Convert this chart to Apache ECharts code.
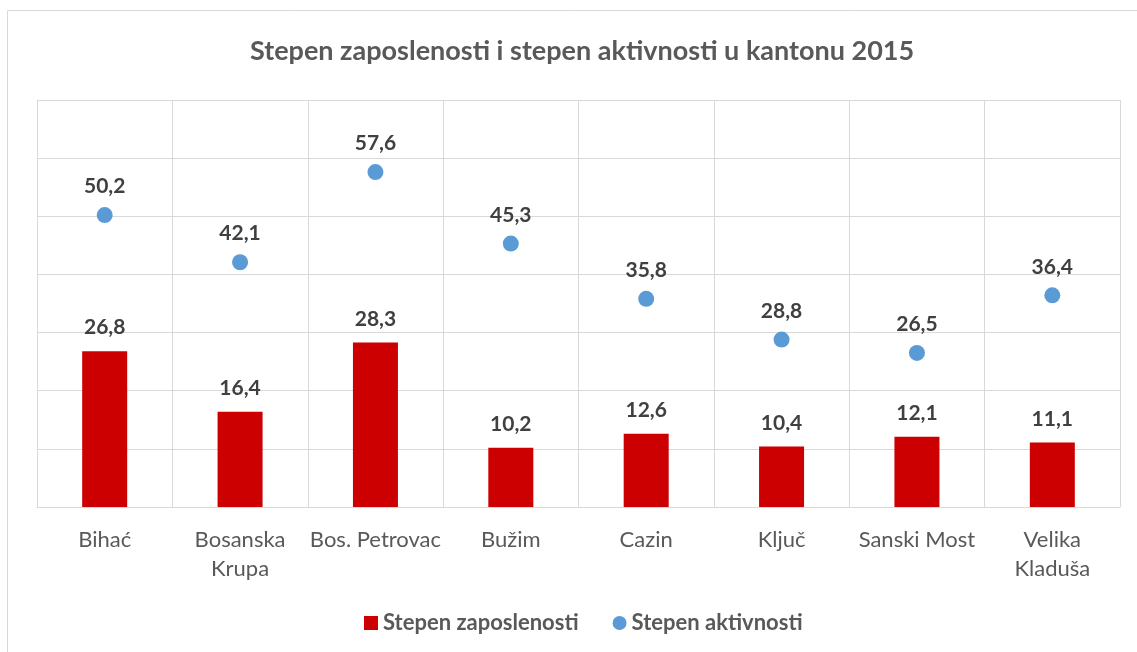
<!DOCTYPE html>
<html>
<head>
<meta charset="utf-8">
<script src="https://cdn.jsdelivr.net/npm/echarts@6/dist/echarts.min.js"></script>
<style>
  html, body { margin: 0; padding: 0; background: #fff; }
  #chart { width: 1137px; height: 652px; }
</style>
</head>
<body>
<div id="chart"></div>
<script>
const categories = ['Bihać', 'Bosanska\nKrupa', 'Bos. Petrovac', 'Bužim', 'Cazin', 'Ključ', 'Sanski Most', 'Velika\nKladuša']
const zaposlenost = [26.8, 16.4, 28.3, 10.2, 12.6, 10.4, 12.1, 11.1]
const aktivnost = [50.2, 42.1, 57.6, 45.3, 35.8, 28.8, 26.5, 36.4]

const fontFamily = 'Lato, "Open Sans", sans-serif'
const gridColor = '#d9d9d9'
const decimal = (p) => p.value.toFixed(1).replace('.', ',')

const chart = echarts.init(document.getElementById('chart'))
chart.setOption({
  animation: false,
  textStyle: { fontFamily },
  title: {
    text: 'Stepen zaposlenosti i stepen aktivnosti u kantonu 2015',
    left: 245,
    top: 33,
    textStyle: { fontFamily, fontSize: 27, fontWeight: 'bold', color: '#595959' }
  },
  graphic: [
    {
      type: 'polyline',
      shape: { points: [[7.5, 660], [7.5, 10.5], [1140, 10.5]] },
      style: { stroke: gridColor, lineWidth: 1, fill: null }
    }
  ],
  legend: {
    top: 607,
    left: 359,
    itemGap: 34,
    itemWidth: 14,
    itemHeight: 14,
    textStyle: { fontFamily, fontSize: 22, fontWeight: 'bold', color: '#595959' },
    data: [
      { name: 'Stepen zaposlenosti', icon: 'rect' },
      { name: 'Stepen aktivnosti', icon: 'circle' }
    ]
  },
  grid: { left: 37, right: 17, top: 100, bottom: 145 },
  xAxis: {
    type: 'category',
    data: categories,
    axisLine: { lineStyle: { color: gridColor } },
    axisTick: { show: false },
    splitLine: { show: true, interval: 0, lineStyle: { color: gridColor } },
    axisLabel: {
      interval: 0,
      margin: 18,
      fontSize: 22,
      lineHeight: 29,
      color: '#595959',
      fontFamily
    }
  },
  yAxis: {
    type: 'value',
    min: 0,
    max: 70,
    interval: 10,
    axisLabel: { show: false },
    axisLine: { show: false },
    axisTick: { show: false },
    splitLine: { lineStyle: { color: gridColor } }
  },
  series: [
    {
      name: 'Stepen zaposlenosti',
      type: 'bar',
      data: zaposlenost,
      barWidth: 45,
      itemStyle: { color: '#cc0000' },
      label: {
        show: true,
        position: 'top',
        distance: 13,
        formatter: decimal,
        fontFamily,
        fontSize: 21,
        fontWeight: 'bold',
        color: '#404040'
      }
    },
    {
      name: 'Stepen aktivnosti',
      type: 'scatter',
      data: aktivnost,
      symbol: 'circle',
      symbolSize: 16,
      itemStyle: { color: '#5b9bd5', opacity: 1 },
      label: {
        show: true,
        position: 'top',
        distance: 10,
        formatter: decimal,
        fontFamily,
        fontSize: 21,
        fontWeight: 'bold',
        color: '#404040',
        opacity: 1
      }
    }
  ]
})
</script>
</body>
</html>
